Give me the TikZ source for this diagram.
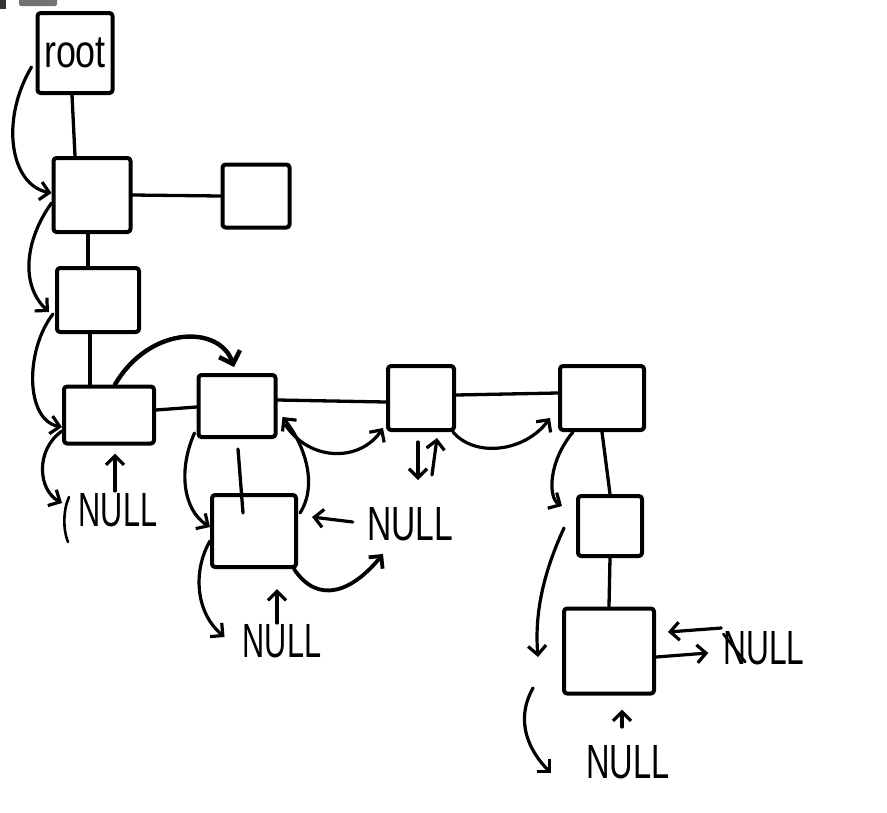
\documentclass[tikz,border=0pt]{standalone}
\usepackage{fontspec}
\setmainfont{Liberation Sans}
\usetikzlibrary{arrows.meta,calc}
\begin{document}
\begin{tikzpicture}[x=1pt,y=-1pt, line cap=round, line join=round,
  box/.style={draw, line width=4pt, inner sep=0pt, rounded corners=3pt},
  link/.style={line width=3.3pt},
  arr/.style={line width=3.2pt, -{Straight Barb[length=9pt,width=18pt]}},
  bigarr/.style={line width=4.4pt, -{Straight Barb[length=11pt,width=22pt]}},
  nul/.style={font=\fontsize{48}{52}\selectfont, inner sep=0pt},
  stroke/.style={line width=2.6pt}]
\useasboundingbox (0,0) rectangle (887,812);
% screenshot artefacts at top left
\fill[black!80] (0,0) rectangle (6,9);
\fill[black!55, rounded corners=2pt] (19,-3) rectangle (57,6);

% boxes
\node[box, minimum width=75pt, minimum height=80pt] (root) at (75,53)
  {\fontsize{46}{50}\selectfont\scalebox{0.78}[1]{root}};
\node[box, minimum width=77pt, minimum height=74pt] (A)  at (92,195) {};
\node[box, minimum width=67pt, minimum height=63pt] (Ap) at (256,196) {};
\node[box, minimum width=82pt, minimum height=64pt] (B)  at (98,300) {};
\node[box, minimum width=90pt, minimum height=57pt] (C)  at (109,415) {};
\node[box, minimum width=77pt, minimum height=62pt] (D)  at (237,406) {};
\node[box, minimum width=84pt, minimum height=72pt] (E)  at (254,531) {};
\node[box, minimum width=66pt, minimum height=64pt] (F)  at (421,398) {};
\node[box, minimum width=84pt, minimum height=64pt] (G)  at (602,398) {};
\node[box, minimum width=64pt, minimum height=60pt] (H)  at (610,526) {};
\node[box, minimum width=90pt, minimum height=85pt] (I)  at (609,651) {};

% NULL labels
\node[nul] (n1) at (118,510) {\scalebox{0.64}[1]{NULL}};
\node[nul] (n2) at (410,524) {\scalebox{0.7}[1]{NULL}};
\node[nul] (n3) at (282,641) {\scalebox{0.64}[1]{NULL}};
\node[nul] (n4) at (764,648) {\scalebox{0.66}[1]{NULL}};
\node[nul] (n5) at (628,762) {\scalebox{0.68}[1]{NULL}};

% tree links
\draw[link] ($(root.south)+(-3,0)$) -- ($(A.north)+(-17,0)$);
\draw[link] (A.east) -- (Ap.west);
\draw[link] ($(A.south)+(-4,0)$) -- ($(B.north)+(-10,0)$);
\draw[link] ($(B.south)+(-8,0)$) -- ($(C.north)+(-19,0)$);
\draw[link] ($(C.east)+(0,-5)$) -- ($(D.west)+(0,1)$);
\draw[link] ($(D.east)+(0,-6)$) -- ($(F.west)+(0,4)$);
\draw[link] ($(F.east)+(0,-3)$) -- ($(G.west)+(0,-5)$);
\draw[link] ($(D.south)+(1,10)$) -- ($(E.north)+(-11,20)$);
\draw[link] (G.south) -- (H.north);
\draw[link] (H.south) -- (I.north);

% threaded pointers
\draw[arr] ($(root.west)+(-4,14)$) .. controls (0,120) and (10,185) .. ($(A.west)+(0,-2)$);
\draw[arr] ($(A.west)+(0,8)$) .. controls (25,240) and (20,285) .. ($(B.west)+(-6,12)$);
\draw[arr] ($(B.west)+(-2,14)$) .. controls (25,350) and (25,420) .. ($(C.west)+(0,12)$);
\coordinate (c1) at (62,503);
\draw[arr] ($(C.west)+(0,16)$) .. controls (35,450) and (38,490) .. (c1);
\draw[stroke] (69,497) .. controls (63,510) and (63,530) .. (68,542);
\draw[arr] ($(n1.north)+(-3,-2)$) -- ($(C.south)+(6,8)$);
\draw[bigarr] ($(C.north)+(6,0)$) .. controls (150,325) and (220,325) .. ($(D.north)+(-3,-6)$);

\draw[arr] ($(D.south west)+(-2,-6)$) .. controls (178,470) and (183,510) .. ($(E.west)+(0,-4)$);
\draw[arr] ($(E.east)+(2,-18)$) .. controls (318,485) and (305,445) .. ($(D.south east)+(5,-22)$);
\draw[arr] ($(D.south east)+(8,-14)$) .. controls (310,462) and (360,462) .. ($(F.south west)+(-3,-4)$);
\draw[arr] ($(n2.west)+(-14,-2)$) -- ($(E.east)+(14,-14)$);
\draw[arr, line width=3.8pt] ($(E.south east)+(-4,0)$) .. controls (318,605) and (352,592) .. ($(n2.south)+(-27,13)$);
\draw[arr] ($(E.west)+(0,10)$) .. controls (193,570) and (195,612) .. ($(n3.west)+(-18,-4)$);
\draw[arr] ($(n3.north)+(-5,-1)$) -- ($(E.south)+(23,20)$);

\coordinate (f1) at (418,480);
\coordinate (f2) at (432,475);
\draw[arr] ($(F.south)+(-3,10)$) -- (f1);
\draw[arr] (f2) -- ($(F.south)+(16,6)$);
\draw[arr] ($(F.south east)+(-3,0)$) .. controls (475,458) and (525,452) .. ($(G.west)+(-8,20)$);

\draw[arr] ($(G.south west)+(15,0)$) .. controls (548,462) and (548,498) .. ($(H.west)+(-14,-20)$);
\coordinate (h1) at (538,657);
\draw[arr] ($(H.west)+(-12,2)$) .. controls (540,580) and (535,620) .. (h1);
\coordinate (i0) at (533,688);
\coordinate (i1) at (551,773);
\draw[arr] (i0) .. controls (514,722) and (530,752) .. (i1);
\draw[arr] ($(I.east)+(0,6)$) -- ($(n4.west)+(-15,5)$);
\draw[arr] ($(n4.west)+(-2,-20)$) -- ($(I.east)+(12,-19)$);
\draw[stroke] ($(n4.west)+(0,-14)$) -- ($(n4.west)+(22,14)$);
\draw[arr] ($(n5.north)+(-6,-18)$) -- ($(I.south)+(13,14)$);
\end{tikzpicture}
\end{document}
